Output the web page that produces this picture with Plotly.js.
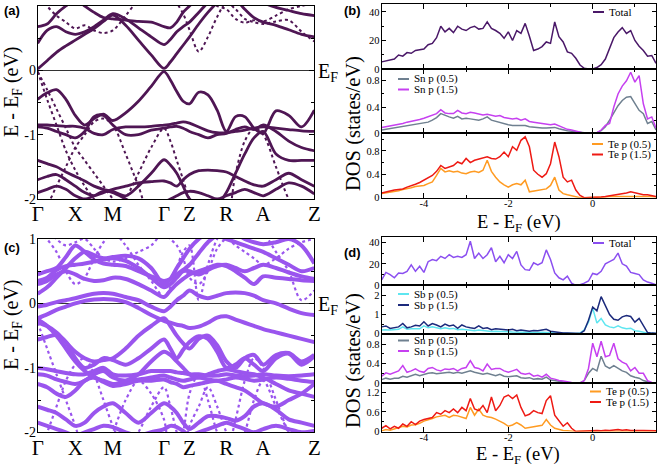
<!DOCTYPE html>
<html><head><meta charset="utf-8">
<script src="https://cdn.plot.ly/plotly-3.0.1.min.js"></script>
<style>html,body{margin:0;padding:0;background:#fff}#c{width:660px;height:466px}</style>
</head><body><div id="c"></div>
<script>
// ---------------- DATA ----------------
const kPath = [0,0.125,0.25,0.375,0.5,0.625,0.75,0.875,1.0,1.17,1.34,1.51,1.68,1.765,1.85,1.935,2.02,2.1425,2.265,2.3875,2.51,2.6325,2.755,2.8775,3.0,3.17,3.34,3.51,3.68];
const kTickVals = [0,0.5,1.0,1.68,2.02,2.51,3.0,3.68];
const kTickText = ['Γ','X','M','Γ','Z','R','A','Z'];

// panel (a) bands: thick (strong weight) and thin (weak weight)
const bandsA_thick = [
 [0.02,0.15,0.28,0.38,0.47,0.56,0.65,0.76,0.86,0.7,0.47,0.24,0.03,0.13,0.26,0.39,0.52,0.72,0.9,1.05,1.15,1.1,0.95,0.82,0.75,0.7,0.63,0.56,0.52],
 [0.42,0.62,0.68,0.6,0.56,0.6,0.68,0.78,0.88,0.8,0.66,0.52,0.4,0.48,0.6,0.68,0.75,0.9,1.05,1.15,1.2,1.2,1.2,1.15,1.05,0.98,0.93,0.88,0.85],
 [0.68,0.72,0.88,1.0,1.1,1.0,0.9,0.82,0.8,0.78,0.76,0.75,0.68,0.66,0.75,0.9,1.0,1.15,1.3,1.3,1.3,1.3,1.3,1.3,1.3,1.3,1.3,1.3,1.3],
 [-0.45,-0.35,-0.3,-0.45,-0.7,-0.85,-0.75,-0.68,-0.78,-0.66,-0.48,-0.25,-0.02,-0.15,-0.33,-0.48,-0.52,-0.34,-0.38,-0.62,-0.95,-0.72,-0.72,-0.9,-0.98,-0.63,-0.7,-0.88,-0.62],
 [-0.85,-0.85,-0.86,-0.87,-0.87,-0.9,-0.98,-1.0,-0.92,-0.88,-0.88,-0.87,-0.85,-0.84,-0.82,-0.8,-0.82,-0.88,-0.94,-0.97,-0.97,-0.95,-0.93,-0.9,-0.88,-0.9,-0.92,-0.94,-0.95],
 [-0.88,-0.9,-0.95,-1.0,-1.05,-0.95,-0.72,-0.7,-0.85,-1.0,-1.0,-0.93,-0.9,-0.88,-0.87,-0.9,-0.95,-1.0,-1.05,-1.0,-0.98,-0.92,-0.88,-0.92,-0.85,-0.95,-1.1,-1.2,-1.25],
 [-1.4,-1.45,-1.5,-1.58,-1.65,-1.72,-1.8,-1.85,-1.88,-1.95,-1.8,-1.6,-1.39,-1.47,-1.6,-1.8,-2.0,-2.1,-2.2,-2.1,-1.9,-1.6,-1.3,-1.05,-0.95,-1.3,-1.4,-1.4,-1.4],
 [-1.7,-1.65,-1.62,-1.7,-1.8,-1.9,-1.95,-1.9,-1.85,-1.8,-1.75,-1.73,-1.72,-1.75,-1.8,-1.7,-1.62,-1.56,-1.55,-1.56,-1.58,-1.65,-1.72,-1.78,-1.8,-1.7,-1.6,-1.7,-1.8],
 [-1.9,-1.85,-1.8,-1.85,-1.95,-2.0,-1.95,-1.88,-1.9,-2.0,-2.1,-2.1,-2.05,-2.0,-1.95,-1.9,-1.88,-1.9,-1.95,-2.0,-1.95,-1.9,-1.85,-1.9,-1.95,-1.85,-1.75,-1.8,-1.92]
];
const bandsA_thin = [
 [1.3,1.3,1.3,1.3,1.3,1.3,1.3,1.3,1.3,1.3,1.3,1.3,1.3,1.2,1.05,0.88,0.63,0.29,0.52,0.83,1.05,0.95,0.8,0.75,0.72,0.76,0.78,0.6,0.45],
 [1.2,1.0,0.85,0.75,0.65,0.7,0.62,0.58,0.62,0.85,1.1,1.3,1.3,1.3,1.3,1.3,1.3,1.2,1.1,1.0,0.95,0.8,0.74,0.78,0.76,0.85,0.95,1.0,1.05],
 [-0.02,-0.45,-0.85,-1.25,-1.55,-1.8,-2.0,-2.2,-2.3,-2.3,-2.3,-2.3,-2.3,-2.3,-2.3,-2.3,-2.3,-2.3,-2.3,-2.3,-2.3,-2.3,-2.3,-2.3,-2.3,-2.3,-2.3,-2.3,-2.3],
 [-2.3,-2.1,-1.8,-1.5,-1.2,-1.0,-0.8,-0.75,-0.85,-1.3,-1.8,-2.3,-2.3,-2.3,-2.3,-2.3,-2.3,-2.3,-2.3,-2.3,-2.3,-2.3,-2.3,-2.3,-2.3,-2.3,-2.3,-2.3,-2.3],
 [-2.3,-2.3,-2.3,-2.3,-2.3,-2.3,-2.3,-2.3,-2.3,-2.0,-1.6,-1.2,-0.9,-1.1,-1.4,-1.7,-2.0,-2.3,-2.3,-2.3,-2.3,-2.3,-2.3,-2.3,-2.3,-2.3,-2.3,-2.3,-2.3],
 [-2.3,-2.3,-2.3,-2.3,-2.3,-2.3,-2.3,-2.3,-2.3,-2.3,-2.3,-2.3,-2.3,-2.3,-2.3,-2.3,-2.3,-2.3,-2.3,-2.3,-2.3,-1.6,-1.1,-0.9,-1.0,-1.5,-2.0,-2.3,-2.3],
 [-0.02,-0.3,-0.6,-0.9,-1.2,-1.4,-1.6,-1.8,-2.0,-2.3,-2.3,-2.3,-2.3,-2.3,-2.3,-2.3,-2.3,-2.3,-2.3,-2.3,-2.3,-2.3,-2.3,-2.3,-2.3,-2.3,-2.3,-2.3,-2.3]
];

// panel (c) bands
const bandsC_thick = [
 [-0.23,-0.17,-0.1,-0.05,0.0,0.04,0.06,0.07,0.06,0.02,-0.07,-0.18,-0.27,-0.3,-0.33,-0.35,-0.38,-0.36,-0.3,-0.22,-0.2,-0.25,-0.3,-0.35,-0.4,-0.45,-0.5,-0.55,-0.6],
 [-0.05,-0.02,0.02,0.05,0.08,0.12,0.15,0.16,0.15,0.1,0.05,-0.05,-0.12,-0.05,0.05,0.12,0.2,0.12,0.08,0.12,0.16,0.17,0.16,0.12,0.05,0.0,-0.08,-0.15,-0.18],
 [-0.3,-0.35,-0.45,-0.6,-0.75,-0.85,-0.9,-0.88,-0.85,-0.7,-0.5,-0.35,-0.23,-0.35,-0.5,-0.62,-0.7,-0.55,-0.5,-0.65,-0.9,-1.0,-0.85,-0.8,-0.95,-0.8,-0.77,-0.9,-0.8],
 [0.3,0.35,0.45,0.5,0.45,0.38,0.35,0.36,0.4,0.38,0.3,0.2,0.1,0.2,0.3,0.38,0.45,0.5,0.55,0.6,0.58,0.5,0.4,0.3,0.42,0.4,0.38,0.36,0.35],
 [0.35,0.4,0.52,0.58,0.6,0.62,0.65,0.68,0.7,0.66,0.55,0.4,0.25,0.3,0.4,0.5,0.5,0.45,0.52,0.58,0.6,0.55,0.5,0.55,0.6,0.55,0.48,0.42,0.38],
 [0.45,0.5,0.55,0.72,0.9,0.8,0.68,0.62,0.6,0.58,0.5,0.42,0.35,0.38,0.45,0.52,0.6,0.78,0.95,1.05,1.0,0.95,0.9,0.85,0.8,0.7,0.6,0.5,0.55],
 [0.15,0.25,0.4,0.55,0.7,0.8,0.75,0.7,0.72,0.74,0.7,0.55,0.3,0.38,0.55,0.7,0.85,1.0,1.1,1.2,1.2,1.1,1.0,0.95,0.92,0.95,1.0,0.9,0.62],
 [-0.56,-0.52,-0.49,-0.6,-0.85,-1.0,-0.95,-0.85,-0.88,-0.95,-0.85,-0.7,-0.56,-0.7,-0.85,-0.72,-0.6,-0.51,-0.55,-0.75,-1.0,-0.95,-0.85,-0.95,-1.05,-0.85,-0.78,-0.95,-0.82],
 [-1.0,-1.02,-1.05,-1.08,-1.1,-1.1,-1.05,-1.0,-1.1,-1.12,-1.1,-1.05,-1.05,-1.05,-1.07,-1.08,-1.1,-1.1,-1.12,-1.12,-1.1,-1.12,-1.13,-1.12,-1.1,-1.12,-1.13,-1.12,-1.1],
 [-1.1,-1.12,-1.18,-1.22,-1.25,-1.2,-1.1,-1.05,-1.15,-1.2,-1.18,-1.15,-1.12,-1.15,-1.18,-1.2,-1.18,-1.15,-1.18,-1.2,-1.18,-1.15,-1.17,-1.2,-1.18,-1.15,-1.17,-1.2,-1.22],
 [-1.25,-1.3,-1.4,-1.45,-1.35,-1.2,-1.15,-1.22,-1.28,-1.25,-1.2,-1.2,-1.18,-1.22,-1.25,-1.3,-1.28,-1.25,-1.22,-1.2,-1.25,-1.3,-1.35,-1.45,-1.55,-1.6,-1.5,-1.4,-1.25],
 [-1.6,-1.65,-1.7,-1.8,-1.9,-1.85,-1.7,-1.6,-1.55,-1.7,-1.85,-1.7,-1.55,-1.6,-1.7,-1.85,-1.95,-1.85,-1.75,-1.75,-1.78,-1.82,-1.75,-1.6,-1.55,-1.65,-1.8,-1.85,-1.9],
 [-1.85,-1.9,-1.95,-2.0,-2.05,-2.0,-1.95,-1.9,-1.92,-2.0,-2.05,-2.0,-1.95,-1.9,-1.92,-1.98,-2.05,-2.0,-1.95,-1.9,-1.85,-1.9,-1.95,-2.0,-1.95,-1.9,-1.95,-2.0,-1.98],
 [-0.25,-0.35,-0.5,-0.7,-0.9,-1.05,-1.15,-1.2,-1.25,-1.2,-1.1,-0.9,-0.75,-0.8,-0.9,-1.0,-1.1,-1.15,-1.1,-1.05,-1.02,-1.05,-1.08,-1.1,-1.15,-1.25,-1.35,-1.4,-1.45]
];
const bandsC_thin = [
 [1.2,1.0,0.8,0.5,0.3,0.4,0.7,0.95,1.1,0.9,0.6,0.35,0.1,0.25,0.55,0.8,0.9,0.05,0.6,1.0,1.2,1.2,1.2,1.2,1.1,0.8,0.5,0.05,0.2],
 [1.3,1.2,1.0,0.9,0.95,1.0,0.85,0.7,0.65,0.7,0.8,0.9,1.1,1.0,0.9,0.7,0.4,0.3,0.5,0.85,1.0,0.9,0.8,0.7,0.6,0.7,0.85,0.95,1.0],
 [-0.3,-0.7,-1.1,-1.5,-1.9,-2.3,-2.3,-2.3,-2.0,-1.5,-1.2,-1.4,-1.8,-2.3,-2.3,-2.0,-1.4,-1.1,-1.5,-2.0,-2.3,-1.8,-1.2,-0.85,-1.0,-1.5,-2.0,-2.3,-2.3],
 [-2.3,-2.0,-1.6,-1.2,-0.95,-0.85,-1.1,-1.5,-1.9,-2.3,-2.0,-1.6,-1.3,-1.6,-2.0,-2.3,-1.9,-1.6,-1.3,-1.6,-2.0,-2.3,-2.0,-1.5,-1.2,-1.6,-2.0,-2.3,-2.3]
];

// DOS energy grid (eV)
const dosE = [-5.0,-4.9,-4.8,-4.7,-4.6,-4.5,-4.4,-4.3,-4.2,-4.1,-4.0,-3.9,-3.8,-3.7,-3.6,-3.5,-3.4,-3.3,-3.2,-3.1,-3.0,-2.9,-2.8,-2.7,-2.6,-2.5,-2.4,-2.3,-2.2,-2.1,-2.0,-1.9,-1.8,-1.7,-1.6,-1.5,-1.4,-1.3,-1.2,-1.1,-1.0,-0.9,-0.8,-0.7,-0.6,-0.5,-0.4,-0.3,-0.2,-0.1,0.0,0.1,0.2,0.3,0.4,0.5,0.6,0.7,0.8,0.9,1.0,1.1,1.2,1.3,1.4,1.5];

// panel (b)
const dosB_total = [5,5.5,6.3,7,9.8,9,11.5,11,13,13.5,14,17,18,22,30,26,28.5,25.5,30,28,27,29,30,28,28.5,33,28.5,27,25,21.5,26,20,27,25,32,23,13,14,15.7,19,18,33,22.7,19,12,11,7.5,2.8,0.5,0,0,1,3,7,15,22,26,29,25,27,20,16,13,9,9.5,4];
const dosB_Sn05 = [0.05,0.06,0.07,0.08,0.09,0.1,0.11,0.12,0.13,0.14,0.15,0.17,0.2,0.24,0.3,0.27,0.25,0.23,0.26,0.22,0.23,0.22,0.21,0.2,0.22,0.25,0.2,0.18,0.16,0.14,0.13,0.12,0.12,0.11,0.12,0.1,0.09,0.09,0.08,0.08,0.08,0.09,0.07,0.05,0.04,0.03,0.02,0.01,0,0,0,0.01,0.04,0.1,0.2,0.32,0.42,0.5,0.55,0.56,0.45,0.35,0.3,0.15,0.18,0.05];
const dosB_Sn15 = [0.09,0.1,0.12,0.13,0.14,0.15,0.17,0.18,0.2,0.21,0.23,0.25,0.28,0.3,0.36,0.31,0.3,0.3,0.35,0.31,0.3,0.32,0.31,0.3,0.28,0.29,0.27,0.26,0.27,0.24,0.23,0.22,0.23,0.2,0.22,0.18,0.17,0.16,0.16,0.14,0.13,0.14,0.11,0.09,0.06,0.05,0.03,0.01,0,0,0,0.01,0.05,0.12,0.15,0.4,0.6,0.72,0.8,0.93,0.78,0.88,0.45,0.22,0.25,0.08];
const dosB_Te05 = [0.07,0.08,0.1,0.11,0.12,0.14,0.15,0.17,0.19,0.2,0.21,0.24,0.27,0.38,0.5,0.44,0.46,0.44,0.45,0.42,0.41,0.44,0.45,0.43,0.47,0.64,0.45,0.35,0.27,0.22,0.18,0.22,0.24,0.22,0.3,0.1,0.11,0.12,0.13,0.15,0.21,0.35,0.13,0.07,0.05,0.03,0.01,0,0,0,0,0.01,0.01,0.01,0.02,0.02,0.02,0.03,0.03,0.03,0.03,0.03,0.02,0.02,0.02,0.01];
const dosB_Te15 = [0.08,0.1,0.11,0.13,0.14,0.15,0.18,0.2,0.23,0.26,0.3,0.33,0.38,0.45,0.55,0.5,0.53,0.55,0.61,0.58,0.67,0.6,0.64,0.66,0.67,0.7,0.67,0.66,0.7,0.78,0.7,0.87,0.81,0.98,1.04,0.87,0.47,0.4,0.35,0.41,0.58,0.95,0.7,0.35,0.27,0.3,0.13,0.04,0,0,0,0.01,0.01,0.02,0.03,0.04,0.05,0.07,0.08,0.1,0.08,0.06,0.05,0.05,0.04,0.02];

// panel (d)
const dosD_total = [5,12,10,7,11.5,11,13,19,13,17.7,12,22,24,23,27,25,28.5,26,27,26,28.5,41,25,30,25,28.5,35,22,27,21,28.5,25,31.6,19,14.6,14,21,19,21,33,24,11.5,7,5,8.5,2,0,0.5,2,4,11,10,13,20,22,24,30,20,18,12,11,10,5,3,2,0.5];
const dosD_Sb05 = [0.18,0.2,0.18,0.2,0.22,0.35,0.22,0.25,0.27,0.25,0.4,0.3,0.35,0.3,0.25,0.3,0.25,0.27,0.2,0.22,0.2,0.18,0.15,0.18,0.15,0.14,0.1,0.12,0.1,0.08,0.09,0.08,0.07,0.06,0.06,0.05,0.06,0.05,0.06,0.07,0.04,0.03,0.02,0.01,0.01,0,0,0.02,0.2,0.6,1.35,0.55,0.8,0.45,0.35,0.3,0.4,0.3,0.25,0.28,0.15,0.12,0.05,0.02,0.01,0];
const dosD_Sb15 = [0.35,0.4,0.27,0.3,0.35,0.53,0.3,0.35,0.44,0.4,0.62,0.4,0.53,0.45,0.35,0.5,0.4,0.45,0.27,0.45,0.35,0.3,0.27,0.4,0.27,0.3,0.2,0.25,0.22,0.18,0.18,0.22,0.15,0.18,0.14,0.12,0.16,0.14,0.18,0.22,0.12,0.08,0.04,0.03,0.02,0.01,0,0,0.15,0.7,1.4,1.2,1.95,1.5,1.0,0.75,0.7,0.88,0.95,0.9,0.6,0.8,0.45,0.05,0.02,0.01];
const dosD_Sn05 = [0.07,0.1,0.08,0.1,0.1,0.14,0.12,0.15,0.18,0.15,0.18,0.2,0.21,0.19,0.2,0.21,0.22,0.2,0.22,0.2,0.22,0.25,0.22,0.2,0.18,0.2,0.17,0.15,0.18,0.14,0.13,0.14,0.15,0.11,0.1,0.11,0.08,0.09,0.08,0.12,0.06,0.05,0.03,0.02,0.01,0,0,0,0.05,0.2,0.3,0.25,0.55,0.35,0.3,0.36,0.3,0.25,0.22,0.15,0.12,0.1,0.05,0.02,0,0];
const dosD_Sn15 = [0.14,0.21,0.18,0.22,0.25,0.36,0.22,0.25,0.29,0.24,0.22,0.3,0.32,0.27,0.25,0.29,0.28,0.3,0.25,0.3,0.32,0.46,0.32,0.3,0.25,0.39,0.28,0.3,0.3,0.25,0.22,0.25,0.28,0.2,0.18,0.2,0.14,0.16,0.12,0.18,0.1,0.08,0.05,0.04,0.02,0.01,0,0,0.05,0.3,0.82,0.54,0.86,0.54,0.57,0.82,0.5,0.43,0.39,0.25,0.32,0.2,0.2,0.05,0.01,0];
const dosD_Te05 = [0.02,0.06,0.04,0.08,0.1,0.16,0.14,0.2,0.21,0.25,0.32,0.35,0.4,0.45,0.48,0.5,0.43,0.5,0.48,0.45,0.4,0.74,0.5,0.69,0.5,0.45,0.43,0.38,0.32,0.25,0.16,0.2,0.27,0.2,0.1,0.12,0.16,0.18,0.19,0.37,0.2,0.1,0.06,0.03,0.02,0,0,0.01,0.01,0.01,0.01,0.01,0.01,0.01,0.01,0.01,0.02,0.01,0.01,0.01,0.01,0.01,0.01,0.01,0.01,0.01];
const dosD_Te15 = [0.1,0.18,0.08,0.16,0.1,0.23,0.16,0.3,0.21,0.32,0.37,0.4,0.43,0.58,0.53,0.64,0.58,0.69,0.58,0.74,0.64,1.01,0.69,0.64,0.8,0.58,1.06,0.64,0.8,1.06,1.12,1.01,1.12,0.74,0.48,0.53,0.64,0.58,0.55,0.95,1.1,0.5,0.32,0.16,0.27,0.1,0,0.01,0.01,0.02,0.02,0.03,0.02,0.04,0.03,0.05,0.06,0.04,0.05,0.03,0.04,0.03,0.03,0.02,0.03,0.02];

// ---------------- STYLE / LAYOUT ----------------
const W = 660, H = 466;
const px = v => v / W, py = v => 1 - v / H;
const SERIF = 'Liberation Serif';
const SANS = 'Liberation Sans';
const colA = '#4f1654', colC = '#9a55ee';
const colTotB = '#4a1868', colTotD = '#8b4ff0';
const colSn05 = '#6f8090', colSn15 = '#c640f0';
const colTe05 = '#ff9b22', colTe15 = '#ee1a14';
const colSb05 = '#5ee6f0', colSb15 = '#1c2a7c';

const traces = [];
function addBands(list, xa, ya, color, width, dash) {
  list.forEach(b => traces.push({x: kPath, y: b, xaxis: xa, yaxis: ya, type: 'scatter', mode: 'lines',
    line: {color: color, width: width, dash: dash, shape: 'spline', smoothing: 0.9}, showlegend: false, hoverinfo: 'skip'}));
}
addBands(bandsA_thick, 'x', 'y', colA, 2.8, 'solid');
addBands(bandsA_thin, 'x', 'y', colA, 2, 'dot');
addBands(bandsC_thick, 'x5', 'y5', colC, 4, 'solid');
addBands(bandsC_thin, 'x5', 'y5', colC, 2.2, 'dot');

function addDos(y, xa, ya, color, name) {
  traces.push({x: dosE, y: y, xaxis: xa, yaxis: ya, type: 'scatter', mode: 'lines', name: name,
    line: {color: color, width: 1.5}, showlegend: false, hoverinfo: 'skip'});
}
addDos(dosB_total, 'x2', 'y2', colTotB, 'Total');
addDos(dosB_Sn05, 'x3', 'y3', colSn05, 'Sn p (0.5)');
addDos(dosB_Sn15, 'x3', 'y3', colSn15, 'Sn p (1.5)');
addDos(dosB_Te05, 'x4', 'y4', colTe05, 'Te p (0.5)');
addDos(dosB_Te15, 'x4', 'y4', colTe15, 'Te p (1.5)');
addDos(dosD_total, 'x6', 'y6', colTotD, 'Total');
addDos(dosD_Sb05, 'x7', 'y7', colSb05, 'Sb p (0.5)');
addDos(dosD_Sb15, 'x7', 'y7', colSb15, 'Sb p (1.5)');
addDos(dosD_Sn05, 'x8', 'y8', colSn05, 'Sn p (0.5)');
addDos(dosD_Sn15, 'x8', 'y8', colSn15, 'Sn p (1.5)');
addDos(dosD_Te05, 'x9', 'y9', colTe05, 'Te p (0.5)');
addDos(dosD_Te15, 'x9', 'y9', colTe15, 'Te p (1.5)');

const frame = {showline: true, mirror: 'ticks', linecolor: '#000', linewidth: 1, showgrid: false, zeroline: false, ticks: 'inside', tickcolor: '#000'};
function bandX(anchor) {
  return Object.assign({}, frame, {anchor: anchor, domain: [px(37.7), px(314.3)], range: [0, 3.68], tickmode: 'array',
    tickvals: kTickVals, ticktext: kTickText, ticks: '', ticklabelstandoff: -4, tickfont: {family: SERIF, size: 21, color: '#000'}});
}
function bandY(anchor, top, bot) {
  return Object.assign({}, frame, {anchor: anchor, domain: [py(bot), py(top)], range: [-2, 1], tickmode: 'array',
    tickvals: [-2, -1, 0, 1], ticktext: ['-2', '-1', '0', '1'], ticklen: 5, ticklabelstandoff: -2,
    minor: {tickmode: 'linear', dtick: 0.5, ticklen: 3, ticks: 'inside', tickcolor: '#000'},
    zeroline: true, zerolinecolor: '#333', zerolinewidth: 1,
    tickfont: {family: SERIF, size: 14, color: '#000'}});
}
function dosX(anchor, labels) {
  return Object.assign({}, frame, {anchor: anchor, domain: [px(381.7), px(656)], range: [-5, 1.5], tickmode: 'array',
    tickvals: [-4, -2, 0], ticktext: ['-4', '-2', '0'], ticklen: 5, showticklabels: labels, ticklabelstandoff: -4,
    minor: {tickmode: 'linear', dtick: 1, ticklen: 3, ticks: 'inside', tickcolor: '#000'},
    tickfont: {family: SERIF, size: 10.5, color: '#000'}});
}
function dosY(anchor, top, bot, rmax, tv, tt, mdt) {
  return Object.assign({}, frame, {anchor: anchor, domain: [py(bot), py(top)], range: [0, rmax], tickmode: 'array',
    tickvals: tv, ticktext: tt, ticklen: 4, ticklabelstandoff: -1,
    minor: {tickmode: 'linear', dtick: mdt, ticklen: 2, ticks: 'inside', tickcolor: '#000'},
    tickfont: {family: SERIF, size: 10.5, color: '#000'}});
}

const layout = {
  width: W, height: H, margin: {l: 0, r: 0, t: 0, b: 0}, paper_bgcolor: '#fff', plot_bgcolor: '#fff', showlegend: false,
  xaxis: bandX('y'), yaxis: bandY('x', 6, 199),
  xaxis5: bandX('y5'), yaxis5: bandY('x5', 239, 432.3),
  xaxis2: dosX('y2', false), yaxis2: dosY('x2', 4, 69, 45.6, [0, 20, 40], ['0', '20', '40'], 10),
  xaxis3: dosX('y3', false), yaxis3: dosY('x3', 69, 133.3, 0.98, [0, 0.4, 0.8], ['0', '0.4', '0.8'], 0.2),
  xaxis4: dosX('y4', true), yaxis4: dosY('x4', 133.3, 197.7, 1.1, [0, 0.4, 0.8], ['0', '0.4', '0.8'], 0.2),
  xaxis6: dosX('y6', false), yaxis6: dosY('x6', 237, 285.3, 45, [0, 20, 40], ['0', '20', '40'], 10),
  xaxis7: dosX('y7', false), yaxis7: dosY('x7', 285.3, 333.5, 2.55, [0, 1, 2], ['0', '1', '2'], 0.5),
  xaxis8: dosX('y8', false), yaxis8: dosY('x8', 333.5, 383, 1.02, [0, 0.4, 0.8], ['0', '0.4', '0.8'], 0.2),
  xaxis9: dosX('y9', true), yaxis9: dosY('x9', 383, 431.5, 1.49, [0, 0.6, 1.2], ['0', '0.6', '1.2'], 0.3),
  annotations: [], shapes: []
};

function ann(text, x, y, opts) {
  layout.annotations.push(Object.assign({xref: 'paper', yref: 'paper', x: px(x), y: py(y), text: text, showarrow: false,
    xanchor: 'center', yanchor: 'middle', font: {family: SERIF, size: 20, color: '#000'}}, opts || {}));
}
// panel letters
[['(a)', 2, 1], ['(b)', 342, 1], ['(c)', 2, 238], ['(d)', 342, 243]].forEach(p =>
  ann('<b>' + p[0] + '</b>', p[1], p[2], {xanchor: 'left', yanchor: 'top', font: {family: SANS, size: 13, color: '#000'}}));
// axis titles
ann('E - E<sub>F</sub> (eV)', 12, 92, {textangle: -90});
ann('E - E<sub>F</sub> (eV)', 12, 325, {textangle: -90});
ann('DOS (states/eV)', 353, 123, {textangle: -90, font: {family: SERIF, size: 20.5, color: '#000'}});
ann('DOS (states/eV)', 353, 360, {textangle: -90, font: {family: SERIF, size: 20.5, color: '#000'}});
ann('E - E<sub>F</sub> (eV)', 519, 223, {font: {family: SERIF, size: 18.5, color: '#000'}});
ann('E - E<sub>F</sub> (eV)', 518, 455, {font: {family: SERIF, size: 18.5, color: '#000'}});
ann('E<sub>F</sub>', 316, 72, {xanchor: 'left'});
ann('E<sub>F</sub>', 316, 305, {xanchor: 'left'});

// legend entries (line sample + label)
function leg(label, color, x0, y) {
  layout.shapes.push({type: 'line', xref: 'paper', yref: 'paper', x0: px(x0), x1: px(x0 + 11), y0: py(y), y1: py(y),
    line: {color: color, width: 2}});
  ann(label, x0 + 14, y, {xanchor: 'left', font: {family: SERIF, size: 11, color: '#000'}});
}
leg('Total', colTotB, 593, 12);
leg('Sn p (0.5)', colSn05, 398, 79);
leg('Sn p (1.5)', colSn15, 398, 89.5);
leg('Te p (0.5)', colTe05, 592, 144);
leg('Te p (1.5)', colTe15, 592, 154.5);
leg('Total', colTotD, 593, 243);
leg('Sb p (0.5)', colSb05, 398, 294);
leg('Sb p (1.5)', colSb15, 398, 305);
leg('Sn p (0.5)', colSn05, 398, 340.5);
leg('Sn p (1.5)', colSn15, 398, 351);
leg('Te p (0.5)', colTe05, 590, 391.5);
leg('Te p (1.5)', colTe15, 590, 402);

Plotly.newPlot('c', traces, layout, {displayModeBar: false, staticPlot: true});
</script></body></html>
